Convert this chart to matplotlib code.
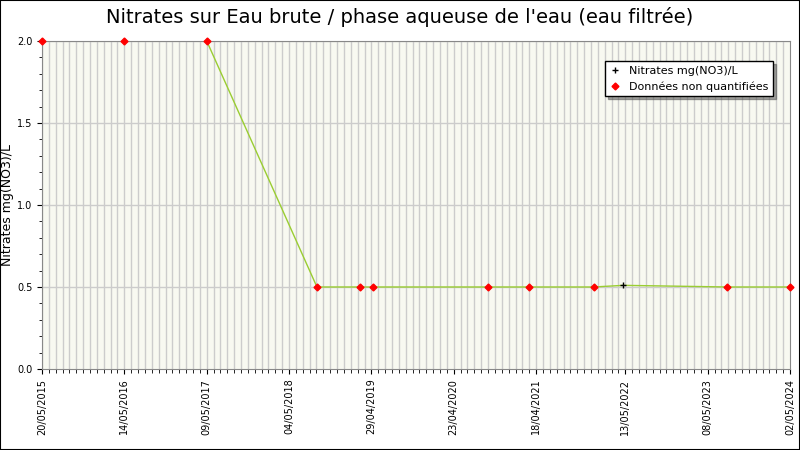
import matplotlib
matplotlib.use("Agg")
import matplotlib.pyplot as plt
import datetime as dt
import numpy as np

dates = ["2015-05-20","2016-05-14","2017-05-09","2018-09-03","2019-03-12","2019-05-08",
         "2020-09-21","2021-03-18","2021-12-25","2022-05-05","2023-08-02","2024-05-02"]
values = [2.0,2.0,2.0,0.5,0.5,0.5,0.5,0.5,0.5,0.51,0.5,0.5]
quantified = [False,False,False,False,False,False,False,False,False,True,False,False]
tick_labels = ["20/05/2015","14/05/2016","09/05/2017","04/05/2018","29/04/2019",
               "23/04/2020","18/04/2021","13/05/2022","08/05/2023","02/05/2024"]

d = [dt.datetime.strptime(s, "%Y-%m-%d") for s in dates]
ticks = [dt.datetime.strptime(s, "%d/%m/%Y") for s in tick_labels]
start, end = ticks[0], ticks[-1]

fig = plt.figure(figsize=(8, 4.5), dpi=100)
ax = fig.add_axes([0.0525, 0.18, 0.935, 0.729])
ax.set_facecolor("#f8f9f1")
ax.set_xlim(start, end)
ax.set_ylim(0, 2.0)

minor = []
t = start
while t < end:
    minor.append(t)
    t += dt.timedelta(days=30)
for m in minor:
    ax.axvline(m, color="#cccccc", lw=1, zorder=1)
for y in [0.5, 1.0, 1.5, 2.0]:
    ax.axhline(y, color="#cccccc", lw=1, zorder=1)

ax.plot(d, values, color="#9acd32", lw=1, zorder=2)
qd = [x for x, q in zip(d, quantified) if q]
qv = [v for v, q in zip(values, quantified) if q]
nd = [x for x, q in zip(d, quantified) if not q]
nv = [v for v, q in zip(values, quantified) if not q]
ax.plot(qd, qv, "+", color="black", ms=4, mew=1, zorder=3, label="Nitrates mg(NO3)/L", clip_on=False)
ax.plot(nd, nv, "D", color="red", ms=3.5, zorder=3, label="Données non quantifiées", clip_on=False)

ax.set_xticks(ticks)
ax.set_xticklabels(tick_labels, rotation=90, fontsize=7)
ax.set_xticks(minor, minor=True)
ax.tick_params(axis="x", which="minor", length=3)
ax.set_yticks([0, 0.5, 1.0, 1.5, 2.0])
ax.set_yticklabels(["0.0", "0.5", "1.0", "1.5", "2.0"], fontsize=7)
ax.set_yticks(np.arange(0, 2.01, 0.1), minor=True)
ax.set_ylabel("Nitrates mg(NO3)/L", fontsize=9)
ax.yaxis.set_label_coords(-0.038, 0.5)
for s in ax.spines.values():
    s.set_color("#888888")

fig.suptitle("Nitrates sur Eau brute / phase aqueuse de l'eau (eau filtrée)", fontsize=14, y=0.985)
leg = ax.legend(loc="upper right", bbox_to_anchor=(0.985, 0.955), fontsize=8, frameon=True,
                fancybox=False, edgecolor="black", shadow=True, handlelength=1)
fig.patches.append(plt.Rectangle((0, 0), 1, 1, transform=fig.transFigure, fill=False,
                                 edgecolor="black", lw=1.5))
fig.savefig("out.png", dpi=100)
